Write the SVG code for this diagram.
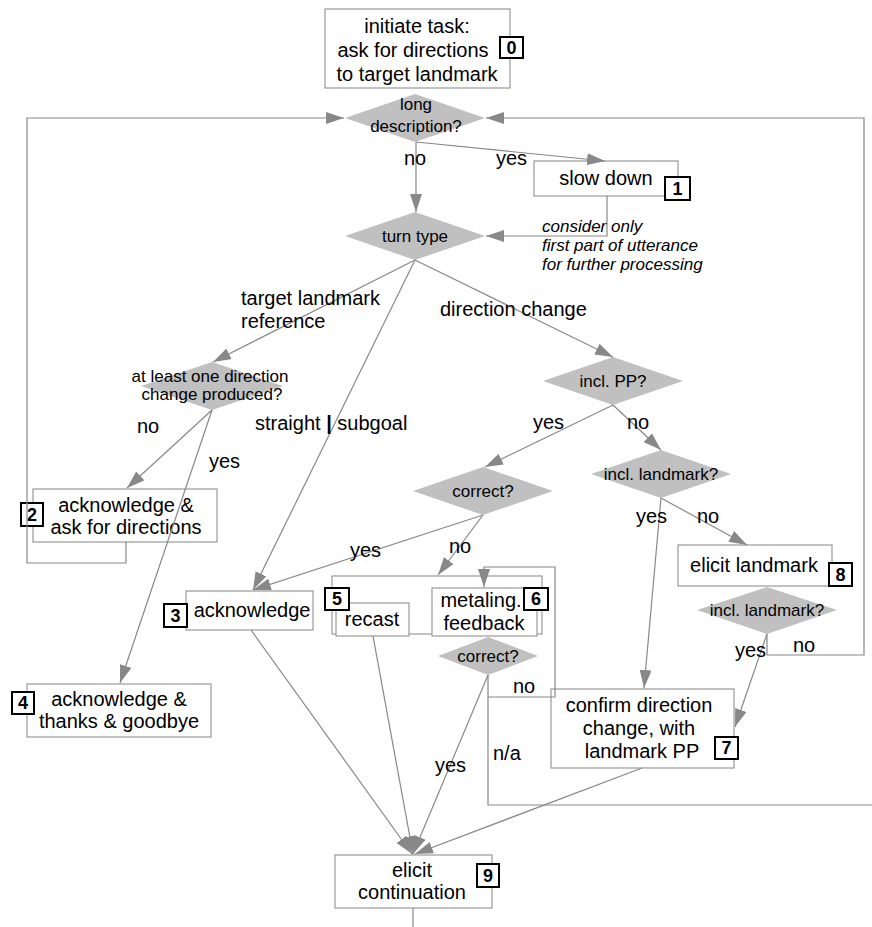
<svg xmlns="http://www.w3.org/2000/svg" width="872" height="927" viewBox="0 0 872 927">
<defs>
<marker id="ah" markerUnits="userSpaceOnUse" markerWidth="18" markerHeight="12" refX="18" refY="6" orient="auto">
<path d="M0,0 L18,6 L0,12 z" fill="#888"/>
</marker>
<style>
.box{fill:#fff;stroke:#999;stroke-width:1.2}
.num{fill:#fff;stroke:#000;stroke-width:2}
.numt{font-family:"Liberation Sans",Arial,sans-serif;font-size:18px;font-weight:bold;text-anchor:middle;fill:#000}
.t{font-family:"Liberation Sans",Arial,sans-serif;font-size:20px;text-anchor:middle;fill:#000}
.d{fill:#c0c0c0;stroke:none}
.dt{font-family:"Liberation Sans",Arial,sans-serif;font-size:17px;text-anchor:middle;fill:#000}
.lbl{font-family:"Liberation Sans",Arial,sans-serif;font-size:20px;fill:#000}
.it{font-family:"Liberation Sans",Arial,sans-serif;font-size:17px;font-style:italic;fill:#000}
.c{fill:none;stroke:#888;stroke-width:1.2}
.a{marker-end:url(#ah)}
</style>
</defs>
<rect width="872" height="927" fill="#fff"/>

<g id="n0">
<rect class="box" x="325" y="9" width="185" height="79"/>
<text class="t" x="417" y="33">initiate task:</text>
<text class="t" x="413" y="57">ask for directions</text>
<text class="t" x="417" y="81">to target landmark</text>
<rect class="num" x="500" y="37" width="23" height="21"/>
<text class="numt" x="511.5" y="54">0</text>
</g>

<g id="n1">
<rect class="box" x="534" y="161" width="144" height="35"/>
<text class="t" x="606" y="185">slow down</text>
<rect class="num" x="665" y="177" width="25" height="23"/>
<text class="numt" x="677.5" y="195">1</text>
</g>

<g id="n2">
<rect class="box" x="33" y="489" width="184" height="53"/>
<text class="t" x="126" y="512">acknowledge &amp;</text>
<text class="t" x="126" y="534">ask for directions</text>
<rect class="num" x="21" y="503" width="22" height="23"/>
<text class="numt" x="32" y="521">2</text>
</g>

<g id="n3">
<rect class="box" x="186" y="591" width="127" height="39"/>
<text class="t" x="252" y="617">acknowledge</text>
<rect class="num" x="164" y="604" width="23" height="23"/>
<text class="numt" x="175.5" y="622">3</text>
</g>

<g id="n4">
<rect class="box" x="27" y="684" width="184" height="53"/>
<text class="t" x="119" y="706">acknowledge &amp;</text>
<text class="t" x="119" y="728">thanks &amp; goodbye</text>
<rect class="num" x="12" y="692" width="22" height="22"/>
<text class="numt" x="23" y="709">4</text>
</g>

<g id="n56">
<rect class="box" x="332" y="576" width="210" height="58"/>
<g id="n5">
<rect class="box" x="336" y="603" width="73" height="33"/>
<text class="t" x="372" y="626">recast</text>
<rect class="num" x="325" y="588" width="24" height="22"/>
<text class="numt" x="337" y="605">5</text>
</g>
<g id="n6">
<rect class="box" x="432" y="588" width="105" height="48"/>
<text class="t" x="481" y="607">metaling.</text>
<text class="t" x="484" y="630">feedback</text>
<rect class="num" x="524" y="588" width="24" height="22"/>
<text class="numt" x="536" y="605">6</text>
</g>
</g>

<g id="n7">
<rect class="box" x="551" y="689" width="183" height="79"/>
<text class="t" x="639" y="712">confirm direction</text>
<text class="t" x="639" y="735">change, with</text>
<text class="t" x="642" y="758">landmark PP</text>
<rect class="num" x="715" y="737" width="23" height="22"/>
<text class="numt" x="726.5" y="754">7</text>
</g>

<g id="n8">
<rect class="box" x="678" y="545" width="154" height="41"/>
<text class="t" x="754" y="572">elicit landmark</text>
<rect class="num" x="829" y="563" width="23" height="23"/>
<text class="numt" x="840.5" y="581">8</text>
</g>

<g id="n9">
<rect class="box" x="335" y="855" width="157" height="53"/>
<text class="t" x="412" y="877">elicit</text>
<text class="t" x="412" y="899">continuation</text>
<rect class="num" x="477" y="864" width="22" height="23"/>
<text class="numt" x="488" y="882">9</text>
</g>

<g id="d_long">
<polygon class="d" points="345,118 415,94 485,118 415,142"/>
<text class="dt" x="416" y="110">long</text>
<text class="dt" x="416" y="132">description?</text>
</g>
<g id="d_turn">
<polygon class="d" points="345,236 415,212 485,236 415,260"/>
<text class="dt" x="415" y="242">turn type</text>
</g>
<g id="d_atleast">
<polygon class="d" points="141,386 212,362 283,386 212,410"/>
<text class="dt" x="210" y="382">at least one direction</text>
<text class="dt" x="212" y="400">change produced?</text>
</g>
<g id="d_pp">
<polygon class="d" points="543,381 613,357 683,381 613,405"/>
<text class="dt" x="613" y="387">incl. PP?</text>
</g>
<g id="d_correct">
<polygon class="d" points="413,491 483,467 553,491 483,515"/>
<text class="dt" x="483" y="497">correct?</text>
</g>
<g id="d_incl">
<polygon class="d" points="591,474 661,450 731,474 661,498"/>
<text class="dt" x="661" y="480">incl. landmark?</text>
</g>
<g id="d_incl2">
<polygon class="d" points="697,610 767,587 837,610 767,634"/>
<text class="dt" x="767" y="616">incl. landmark?</text>
</g>
<g id="d_correct2">
<polygon class="d" points="438,656 488,637 538,656 488,675"/>
<text class="dt" x="488" y="662">correct?</text>
</g>

<g id="connectors">
<path class="c a" d="M126,542 V563 H27 V118 H344"/>
<path class="c a" d="M767,634 V655 H864 V118 H486"/>
<path class="c a" d="M416,142 V212"/>
<path class="c a" d="M416,142 L605,161"/>
<path class="c a" d="M607,196 V236 H486"/>
<path class="c a" d="M415,260 L213,362"/>
<path class="c a" d="M415,260 L253,590"/>
<path class="c a" d="M415,260 L613,357"/>
<path class="c a" d="M212,410 L127,488"/>
<path class="c a" d="M212,410 L120,683"/>
<path class="c a" d="M613,405 L485,467"/>
<path class="c a" d="M613,405 L661,450"/>
<path class="c a" d="M483,515 L253,590"/>
<path class="c a" d="M483,515 L438,575"/>
<path class="c a" d="M661,498 L644,688"/>
<path class="c a" d="M661,498 L747,545"/>
<path class="c a" d="M767,634 L735,727"/>
<path class="c a" d="M488,675 V697 H555 V567 H484 V587"/>
<path class="c" d="M488,697 V805 H872"/>
<path class="c a" d="M251,630 L412,854"/>
<path class="c a" d="M373,636 L413,854"/>
<path class="c a" d="M488,675 L413,854"/>
<path class="c a" d="M642,768 L415,854"/>
<path class="c" d="M413,908 V927"/>
</g>

<g id="labels">
<text class="lbl" x="404" y="165">no</text>
<text class="lbl" x="496" y="165">yes</text>
<text class="it" x="542" y="232">consider only</text>
<text class="it" x="542" y="251">first part of utterance</text>
<text class="it" x="542" y="270">for further processing</text>
<text class="lbl" x="241" y="305">target landmark</text>
<text class="lbl" x="241" y="328">reference</text>
<text class="lbl" x="440" y="316">direction change</text>
<text class="lbl" x="255" y="430">straight <tspan font-weight="bold">|</tspan> subgoal</text>
<text class="lbl" x="137" y="433">no</text>
<text class="lbl" x="209" y="468">yes</text>
<text class="lbl" x="533" y="429">yes</text>
<text class="lbl" x="627" y="429">no</text>
<text class="lbl" x="636" y="523">yes</text>
<text class="lbl" x="697" y="523">no</text>
<text class="lbl" x="350" y="557">yes</text>
<text class="lbl" x="449" y="553">no</text>
<text class="lbl" x="793" y="652">no</text>
<text class="lbl" x="735" y="657">yes</text>
<text class="lbl" x="513" y="693">no</text>
<text class="lbl" x="493" y="760">n/a</text>
<text class="lbl" x="435" y="772">yes</text>
</g>
</svg>
